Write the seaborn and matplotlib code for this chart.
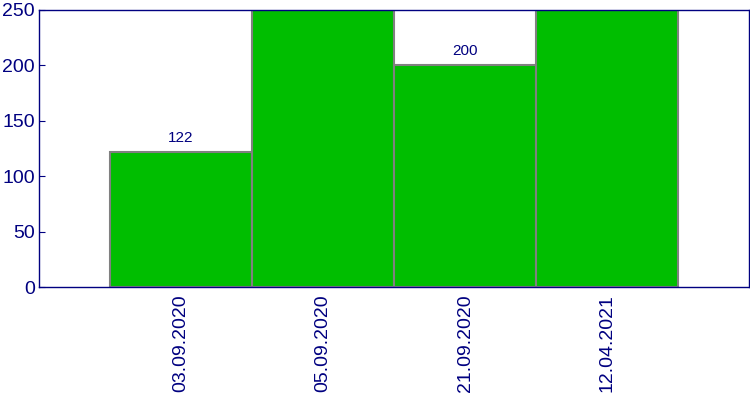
import matplotlib
matplotlib.use("Agg")
import matplotlib.pyplot as plt
import seaborn as sns

sns.set_style("white")
plt.rcParams['font.family'] = ['Liberation Sans', 'DejaVu Sans']

dates = ["03.09.2020", "05.09.2020", "21.09.2020", "12.04.2021"]
counts = [122, 250, 200, 250]

navy = "#000080"

fig = plt.figure(figsize=(7.5, 4), dpi=100)
ax = fig.add_axes([0.052, 0.2825, 0.9467, 0.6925])

sns.barplot(x=dates, y=counts, color="#00BE00", saturation=1, width=1,
            edgecolor="#808080", linewidth=1.5, ax=ax)

# value labels above the bars (the tall ones run off the top, as in the original)
for i, v in enumerate(counts):
    ax.annotate(str(v), (i, v), xytext=(0, 5), textcoords="offset points",
                ha="center", va="bottom", color=navy, fontsize=11,
                annotation_clip=False)

ax.set_xlim(-1, 4)
ax.set_ylim(0, 250)
ax.set_yticks([0, 50, 100, 150, 200, 250])
ax.tick_params(axis="y", direction="in", length=4, color=navy,
               labelcolor=navy, labelsize=14, pad=3, left=True)
ax.tick_params(axis="x", length=0, labelcolor=navy, labelsize=14,
               labelrotation=90, pad=5)
for s in ax.spines.values():
    s.set_color(navy)
    s.set_linewidth(1)
ax.set_xlabel("")
ax.set_ylabel("")

fig.savefig("out.png", dpi=100)
